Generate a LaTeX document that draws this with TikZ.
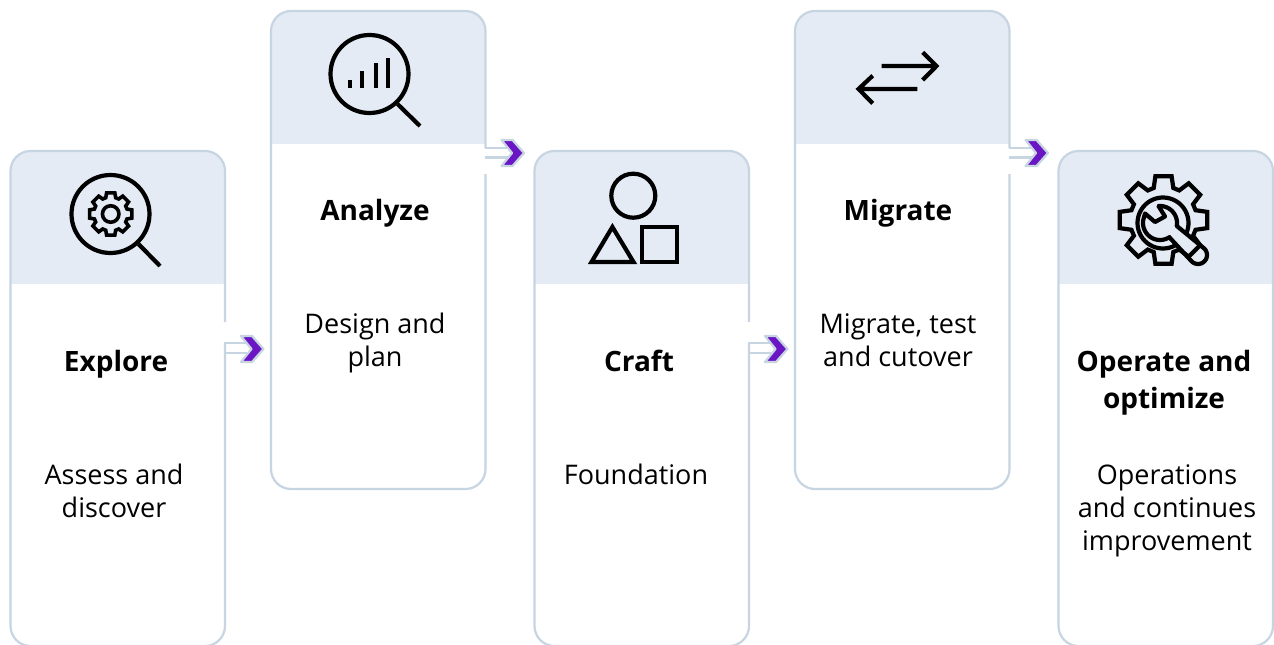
\documentclass[tikz,border=0pt]{standalone}
\usepackage{fontspec}
\setmainfont{Open Sans}
\definecolor{bord}{HTML}{C7D5E2}
\definecolor{head}{HTML}{E4EBF5}
\definecolor{purp}{HTML}{6A16C4}
\tikzset{
 ttl/.style={font=\fontsize{28}{37}\selectfont\bfseries,align=center,text=black,inner sep=0pt},
 txt/.style={font=\fontsize{27}{33}\selectfont,align=center,text=black,inner sep=0pt},
 ico/.style={draw=black,line width=4.2pt,line join=miter}
}
% x, top, bottom, header bottom
\newcommand{\card}[4]{%
 \begin{scope}
 \clip[rounded corners=20pt] (#1,#2) rectangle (#1+214.5,#3);
 \fill[head] (#1,#2) rectangle (#1+214.5,#4);
 \end{scope}
 \draw[bord,line width=2.2pt,rounded corners=20pt] (#1,#2) rectangle (#1+214.5,#3);
}
% right edge x, centre y, gap top, gap bottom, top line y, lower line y
\newcommand{\arrowmark}[6]{%
 \fill[white] (#1-2,#3) rectangle (#1+2,#4);
 \draw[bord,line width=2.2pt] (#1-1,#5) -- (#1+22,#5);
 \draw[bord,line width=2.2pt] (#1-1,#6) -- (#1+22,#6);
 \fill[purp,draw=bord,line width=2.2pt,line join=round] (#1+16,#2-13) -- (#1+27,#2-13) -- (#1+38.5,#2) -- (#1+27,#2+13) -- (#1+16,#2+13) -- (#1+26.5,#2) -- cycle;
}
% gear outline: centre x, y, outer r, root r, half tooth angle outer, half tooth angle root, options
\newcommand{\geartrace}[7]{%
 \draw[#7] ({#1+#4*cos(-#6)},{#2+#4*sin(-#6)})
 \foreach \a in {0,45,...,315} {
   -- ({#1+#4*cos(\a-#6)},{#2+#4*sin(\a-#6)})
   -- ({#1+#3*cos(\a-#5)},{#2+#3*sin(\a-#5)})
   -- ({#1+#3*cos(\a+#5)},{#2+#3*sin(\a+#5)})
   -- ({#1+#4*cos(\a+#6)},{#2+#4*sin(\a+#6)})
 } -- cycle;
}
\begin{document}
\begin{tikzpicture}[x=1pt,y=-1pt]
\useasboundingbox (0,0) rectangle (1274,645);
\begin{scope}
\clip (0,0) rectangle (1274,645);
\fill[white] (0,0) rectangle (1274,645);
\card{10.5}{151}{646}{284}
\card{271}{11}{489}{144}
\card{534.5}{151}{646}{284}
\card{795}{11}{489}{144}
\card{1058.5}{151}{646}{284}
\arrowmark{225}{349}{322}{343}{343}{353}
\arrowmark{485.5}{153}{148}{174}{148}{157.5}
\arrowmark{749}{349}{322}{343}{343}{353}
\arrowmark{1009.5}{153}{148}{174}{148}{157.5}
\end{scope}
% icon 1
\node[ico,circle,minimum size=78pt,inner sep=0pt] (m1) at (110.5,214) {};
\coordinate (m1h) at (160,266);
\draw[ico] (m1.-47) -- (m1h);
\geartrace{110.7}{214}{21.5}{17}{11}{17}{draw=black,line width=3.6pt}
\node[draw=black,line width=3.6pt,circle,minimum size=16.5pt,inner sep=0pt] (g1) at (110.7,214) {};
% icon 2
\node[ico,circle,minimum size=78pt,inner sep=0pt] (m2) at (369.5,74) {};
\coordinate (m2h) at (420,126);
\draw[ico] (m2.-47) -- (m2h);
\draw[ico] (349.7,80) -- (349.7,87.7) (362.3,71) -- (362.3,87.7) (375.7,63.3) -- (375.7,87.7) (388.3,57.7) -- (388.3,87.7);
% icon 3
\node[ico,circle,minimum size=44pt,inner sep=0pt] (c3) at (633.3,195.7) {};
\draw[ico] (612.4,227) -- (633.5,262) -- (591.5,262) -- cycle;
\node[ico,rectangle,minimum size=35pt,inner sep=0pt] (s3) at (659.5,244.5) {};
% icon 4
\draw[ico] (881.7,66) -- (937,66) (922.7,52.3) -- (936.5,66) -- (922.7,80);
\draw[ico] (917.3,89) -- (859,89) (872.7,75.7) -- (858.5,89) -- (872.7,103.3);
% icon 5
\geartrace{1163.5}{220}{44.5}{33.5}{10.5}{17}{draw=black,line width=4.2pt}
\draw[ico] plot[domain=62:384,samples=50] ({1163+25.5*cos(\x)},{223+25.5*sin(\x)});
\draw[ico,line join=round,line cap=round]
  (1145,213.5) -- (1155,222) -- (1165,216.5) -- (1158.5,206)
  -- plot[domain=-95:10,samples=24] ({1160+17*cos(\x)},{223+17*sin(\x)})
  -- (1204.2,248.5)
  -- plot[domain=-45:135,samples=20] ({1198+9*cos(\x)},{255+9*sin(\x)})
  -- (1170,238)
  -- plot[domain=56:200,samples=24] ({1160+17*cos(\x)},{223+17*sin(\x)})
  -- cycle;
\node[ttl] (t1) at (116,364.5) {Explore};
\node[txt] (b1) at (114,491) {Assess and\\discover};
\node[ttl] (t2) at (375,213) {Analyze};
\node[txt] (b2) at (375,343) {Design and\\plan};
\node[ttl] (t3) at (639,361) {Craft};
\node[txt] (b3) at (636,474) {Foundation};
\node[ttl] (t4) at (898,213) {Migrate};
\node[txt] (b4) at (898,340) {Migrate, test\\and cutover};
\node[ttl] (t5) at (1164,383) {Operate and\\optimize};
\node[txt] (b5) at (1167,511) {Operations\\and continues\\improvement};
\end{tikzpicture}
\end{document}
